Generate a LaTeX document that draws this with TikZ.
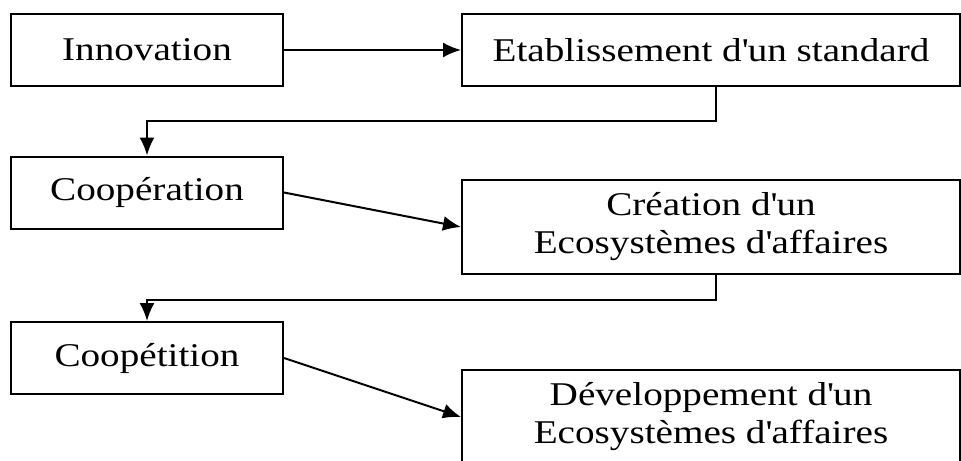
\documentclass[tikz,border=0pt]{standalone}
\usepackage{fontspec}
\setmainfont{Liberation Serif}[FakeStretch=1.18]
\usetikzlibrary{arrows.meta}
\tikzset{
  box/.style={draw, line width=1pt, inner sep=0pt, align=center, font=\fontsize{16.6pt}{19pt}\selectfont},
  smallbox/.style={box, minimum width=136pt, minimum height=36pt},
  widebox/.style={box, minimum width=249pt, minimum height=36pt},
  tallbox/.style={box, minimum width=249pt, minimum height=47pt},
  link/.style={line width=1pt, -{Latex[length=9pt,width=7.5pt]}}
}

\begin{document}
\begin{tikzpicture}[x=0.5pt,y=-0.5pt]
\useasboundingbox (0,0) rectangle (961,460);
\clip (0,0) rectangle (961,460);

\node[smallbox] (innov) at (147,50) {Innovation};
\node[widebox] (etab) at (711,50) {Etablissement d\textquotesingle un standard};
\node[smallbox] (coop) at (147,192.5) {Coopération};
\node[tallbox] (crea) at (711,227) {Création d\textquotesingle un\\Ecosystèmes d\textquotesingle affaires};
\node[smallbox] (coopet) at (147,358) {Coopétition};
\node[tallbox] (dev) at (711,417) {Développement d\textquotesingle un\\Ecosystèmes d\textquotesingle affaires};

\begin{scope}[link]
\draw (innov) -- (etab);
\draw ([xshift=2.5pt]etab.south) -- ++(0,34) -| (coop.north);
\draw (coop.east) -- (crea.west);
\draw ([xshift=2.5pt]crea.south) -- ++(0,25) -| (coopet.north);
\draw (coopet.east) -- (dev.west);
\end{scope}
\end{tikzpicture}
\end{document}
